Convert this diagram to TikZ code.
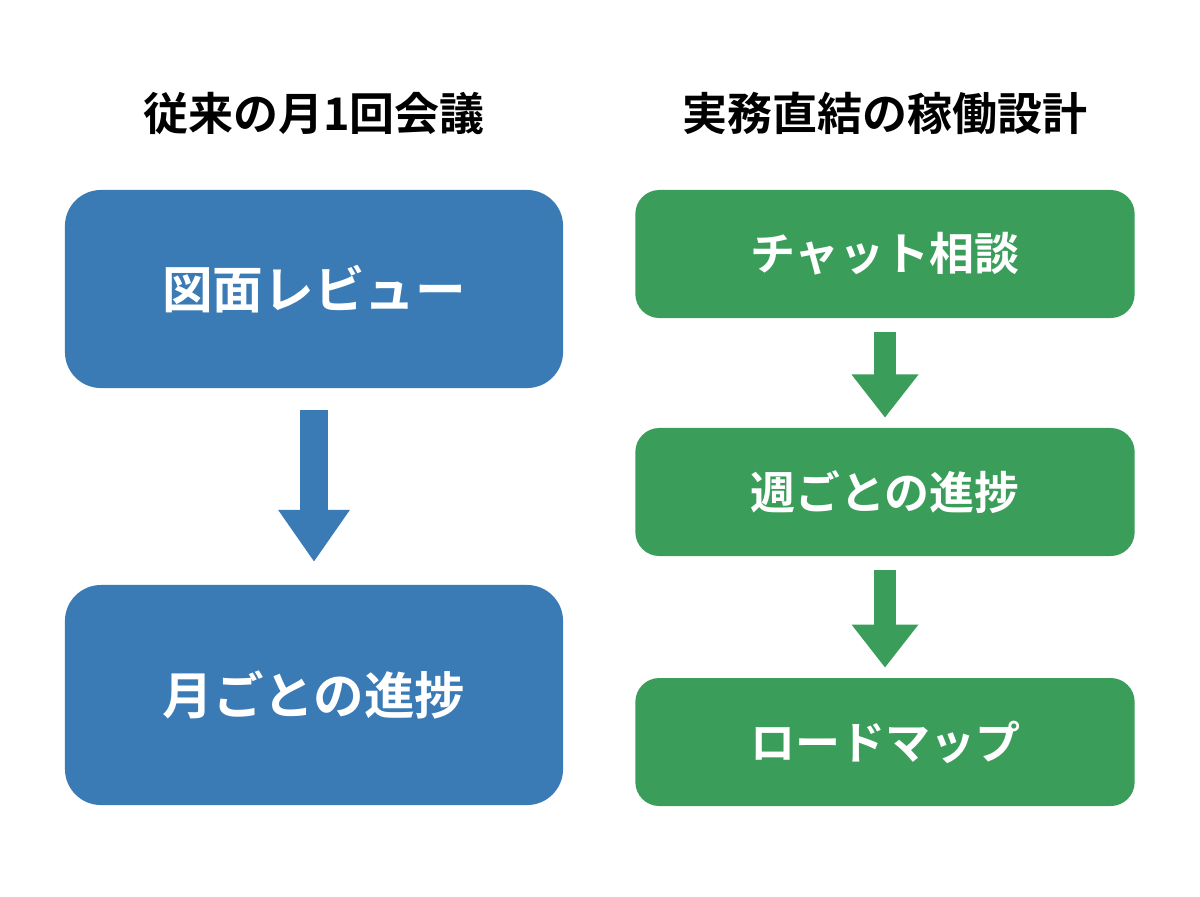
\documentclass[tikz,border=0pt]{standalone}
\usepackage{fontspec}
\setmainfont{Noto Sans CJK JP}[BoldFont={Noto Sans CJK JP Bold}]
\usetikzlibrary{arrows.meta,positioning}
\definecolor{oldBlue}{HTML}{3A7AB5}
\definecolor{newGreen}{HTML}{3A9E5A}
\begin{document}
\begin{tikzpicture}[x=0.025cm,y=-0.025cm,%%
  titleStyle/.style={font=\bfseries\fontsize{32}{36}\selectfont,text=black},%%
  oldStyle/.style={fill=oldBlue,rounded corners=0.9cm,minimum width=12.45cm,minimum height=4.95cm,text=white,font=\bfseries\fontsize{36}{40}\selectfont},%%
  newStyle/.style={fill=newGreen,rounded corners=0.6cm,minimum width=12.48cm,minimum height=3.2cm,text=white,font=\bfseries\fontsize{32}{36}\selectfont},%%
  oldArrow/.style={draw=oldBlue,line width=0.7cm,-{Triangle[length=1.3cm,width=1.7cm]},shorten <=0.55cm,shorten >=0.57cm},%%
  newArrow/.style={draw=newGreen,line width=0.55cm,-{Triangle[length=1.08cm,width=1.6cm]},shorten <=0.35cm,shorten >=0.25cm}%%
]
\useasboundingbox[fill=white] (0,0) rectangle (1200,896);
%%
%% Titles.
\node (OldTitle) at (314,113) [titleStyle] {従来の月1回会議};
\node (NewTitle) at (885,113) [titleStyle] {実務直結の稼働設計};
%%
%% Left column.
\node (Review) at (314,289) [oldStyle] {図面レビュー};
\node (MonthProgress) at (314,695) [oldStyle,minimum height=5.5cm] {月ごとの進捗};
\draw[oldArrow] (Review) -- (MonthProgress);
%%
%% Right column.
\node (Chat) at (885,254) [newStyle] {チャット相談};
\node (WeekProgress) at (885,492) [newStyle] {週ごとの進捗};
\node (Roadmap) at (885,742) [newStyle] {ロードマップ};
\draw[newArrow] (Chat) -- (WeekProgress);
\draw[newArrow] (WeekProgress) -- (Roadmap);
\end{tikzpicture}
\end{document}
